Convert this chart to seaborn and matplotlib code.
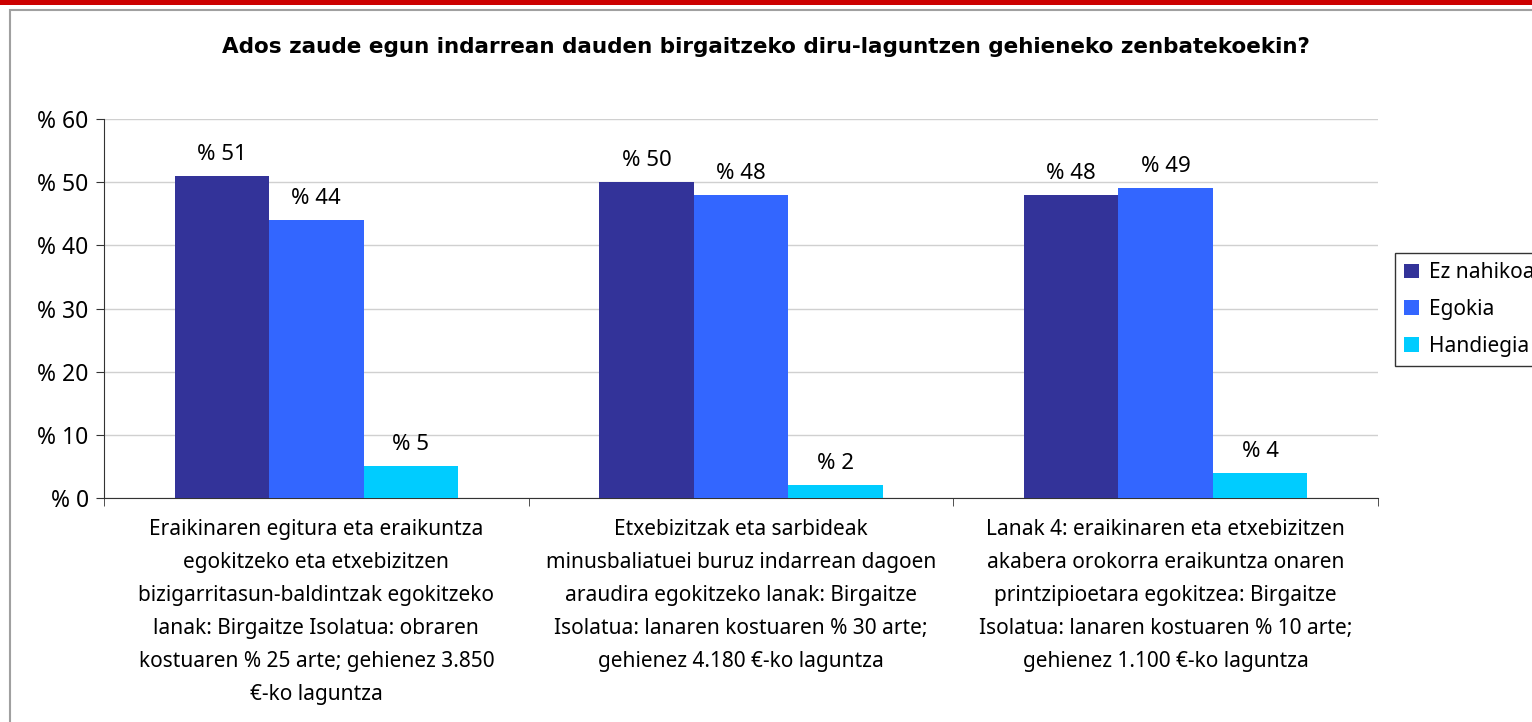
import pandas as pd
import matplotlib.pyplot as plt
import seaborn as sns
from matplotlib.patches import Rectangle

# Data
categories = [
    "Eraikinaren egitura eta eraikuntza\negokitzeko eta etxebizitzen\nbizigarritasun-baldintzak egokitzeko\nlanak: Birgaitze Isolatua: obraren\nkostuaren % 25 arte; gehienez 3.850\n€-ko laguntza",
    "Etxebizitzak eta sarbideak\nminusbaliatuei buruz indarrean dagoen\naraudira egokitzeko lanak: Birgaitze\nIsolatua: lanaren kostuaren % 30 arte;\ngehienez 4.180 €-ko laguntza",
    "Lanak 4: eraikinaren eta etxebizitzen\nakabera orokorra eraikuntza onaren\nprintzipioetara egokitzea: Birgaitze\nIsolatua: lanaren kostuaren % 10 arte;\ngehienez 1.100 €-ko laguntza",
]
series = ["Ez nahikoa", "Egokia", "Handiegia"]
ez_nahikoa = [51, 50, 48]
egokia = [44, 48, 49]
handiegia = [5, 2, 4]
colors = ["#333399", "#3366FF", "#00CCFF"]
y_ticks = [0, 10, 20, 30, 40, 50, 60]

rows = []
for name, vals in zip(series, [ez_nahikoa, egokia, handiegia]):
    for cat, v in zip(categories, vals):
        rows.append({"cat": cat, "series": name, "value": v})
df = pd.DataFrame(rows)

sns.set_style("white")
plt.rcParams["font.family"] = ["Noto Sans", "DejaVu Sans"]
plt.rcParams["text.color"] = "black"
plt.rcParams["xtick.color"] = "black"
plt.rcParams["ytick.color"] = "black"

W, H = 1532, 722
fig = plt.figure(figsize=(W / 100, H / 100), dpi=100)
ax = fig.add_axes([104 / W, 1 - 498 / H, (1378 - 104) / W, (498 - 119) / H])

# page decorations: red strip and gray frame
fig.patches.append(Rectangle((0, 1 - 5 / H), 1, 5 / H, transform=fig.transFigure,
                             facecolor="#CC0000", edgecolor="none", zorder=0))
fig.patches.append(Rectangle((10 / W, -0.1), 2, 1 - 10 / H + 0.1, transform=fig.transFigure,
                             facecolor="none", edgecolor="#A0A0A0", linewidth=1.5, zorder=0))

sns.barplot(data=df, x="cat", y="value", hue="series", hue_order=series,
            palette=colors, saturation=1, width=2 / 3, ax=ax, legend=False,
            edgecolor="none", linewidth=0, zorder=3)

for cont in ax.containers:
    ax.bar_label(cont, labels=[f"% {v:.0f}" for v in cont.datavalues],
                 padding=8, fontsize=16)

ax.set_xlim(-0.5, 2.5)
ax.set_ylim(0, 60)
ax.set_yticks(y_ticks)
ax.set_yticklabels([f"% {t}" for t in y_ticks], fontsize=16.5)
ax.yaxis.grid(True, color="#D0D0D0", linewidth=1, zorder=0)
ax.set_axisbelow(True)
ax.set_xlabel("")
ax.set_ylabel("")
ax.set_xticks([0, 1, 2])
ax.set_xticklabels(categories, fontsize=15, linespacing=1.75)
ax.tick_params(axis="x", length=0, pad=15)
ax.set_xticks([-0.5, 0.5, 1.5, 2.5], minor=True)
ax.tick_params(axis="x", which="minor", length=6, direction="out", color="#333333", bottom=True)
ax.tick_params(axis="y", length=6, direction="out", color="#333333", left=True, pad=5)
for s in ["top", "right"]:
    ax.spines[s].set_visible(False)
ax.spines["left"].set_color("#333333")
ax.spines["bottom"].set_color("#333333")

fig.text(0.5, 1 - 47 / H, "Ados zaude egun indarrean dauden birgaitzeko diru-laguntzen gehieneko zenbatekoekin?",
         ha="center", va="center", fontsize=15.5, fontweight="bold", family="DejaVu Sans")

handles = [Rectangle((0, 0), 1, 1, facecolor=c, edgecolor="none") for c in colors]
leg = fig.legend(handles, series, loc="upper left", bbox_to_anchor=(1395 / W, 1 - 253 / H),
                 borderaxespad=0, fontsize=15, frameon=True, fancybox=False, edgecolor="black",
                 handlelength=0.7, handleheight=0.7, handletextpad=0.5,
                 labelspacing=0.75, borderpad=0.45)
leg.get_frame().set_linewidth(1)

fig.savefig("out.png", dpi=100)
